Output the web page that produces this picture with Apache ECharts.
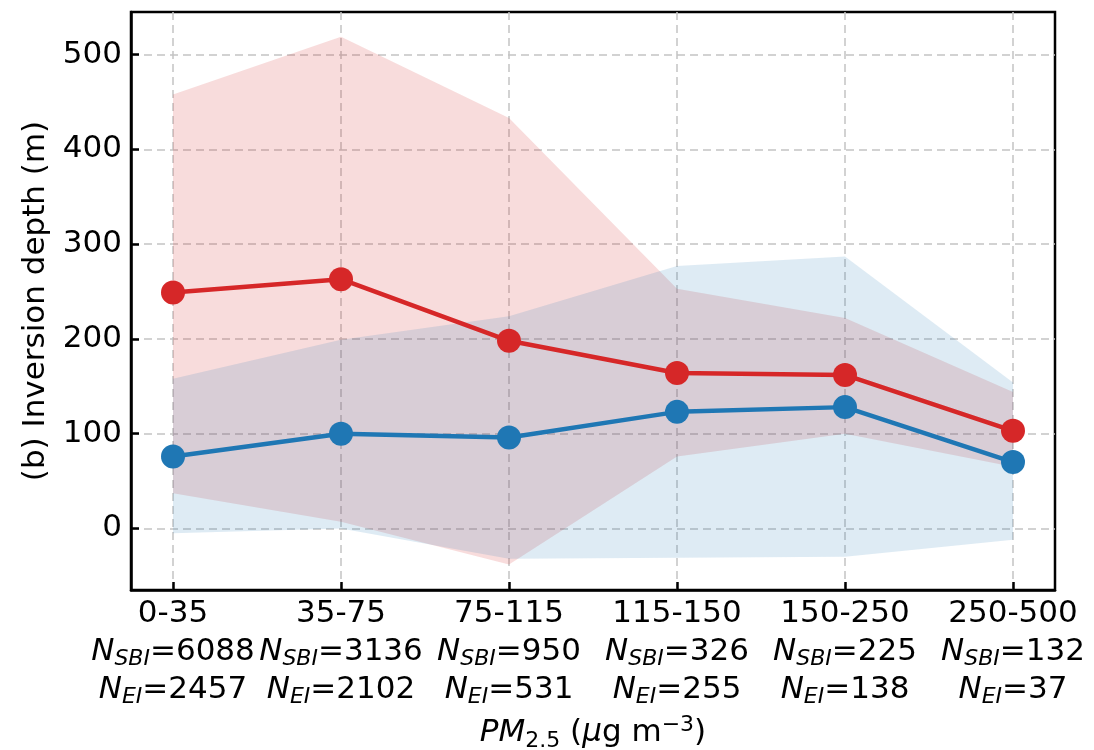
<!DOCTYPE html>
<html>
<head>
<meta charset="utf-8">
<script src="https://cdn.jsdelivr.net/npm/echarts@6/dist/echarts.min.js"></script>
<style>
html,body{margin:0;padding:0;background:#fff;}
#chart{width:1094px;height:750px;}
</style>
</head>
<body>
<div id="chart"></div>
<script>
const categories = ['0-35', '35-75', '75-115', '115-150', '150-250', '250-500'];
const nSBI = [6088, 3136, 950, 326, 225, 132];
const nEI = [2457, 2102, 531, 255, 138, 37];
const sbiMean = [249, 263, 198, 164, 162, 103];
const sbiLow = [37, 7, -38, 76, 100, 65];
const sbiHigh = [458, 519, 433, 253, 222, 144];
const eiMean = [76, 100, 96, 123, 128, 70];
const eiLow = [-5, 0, -32, -31, -30, -12];
const eiHigh = [158, 199, 224, 277, 287, 154];
const yTicks = [0, 100, 200, 300, 400, 500];

const idx = categories.map((c, i) => i);
const pairs = arr => arr.map((v, i) => [i, v]);

const RED = '#d62728', BLUE = '#1f77b4';
const FONT = 'DejaVu Sans';
const FS = 31, SFS = 22, LH = 38;

function bandSeries(name, lo, hi, color) {
  return {
    name: name, type: 'custom', silent: true, z: 1, clip: true,
    data: lo.map((v, i) => [i, v, hi[i]]),
    encode: {x: 0, y: [1, 2]},
    renderItem: (params, api) => {
      if (params.dataIndex !== 0) return null;
      const upper = hi.map((v, i) => api.coord([i, v]));
      const lower = lo.map((v, i) => api.coord([i, v])).reverse();
      return {
        type: 'polygon',
        shape: {points: upper.concat(lower)},
        style: {fill: color, stroke: null}
      };
    }
  };
}

const chart = echarts.init(document.getElementById('chart'), null, {renderer: 'canvas'});
chart.setOption({
  animation: false,
  backgroundColor: '#fff',
  textStyle: {fontFamily: FONT},
  grid: {left: 131, right: 39, top: 12, bottom: 160, outerBoundsMode: 'none', containLabel: false,
         show: true, borderColor: '#000', borderWidth: 2.5, backgroundColor: 'transparent'},
  xAxis: {
    type: 'value', min: -0.25, max: 5.25,
    axisLine: {show: true, onZero: false, lineStyle: {color: '#000', width: 2.5}},
    axisTick: {show: true, inside: true, length: 8, lineStyle: {color: '#000', width: 2.5}, customValues: idx},
    splitLine: {show: true, lineStyle: {color: '#c4c4c4', width: 1.5, type: [8, 5]}},
    axisLabel: {
      customValues: idx, margin: 5, color: '#000',
      formatter: v => {
        const i = Math.round(v);
        return '{t|' + categories[i] + '}\n{n|N}{s|SBI}{t|=' + nSBI[i] + '}\n{n|N}{s|EI}{t|=' + nEI[i] + '}';
      },
      rich: {
        t: {fontSize: FS, fontFamily: FONT, color: '#000', lineHeight: LH, verticalAlign: 'middle'},
        n: {fontSize: FS, fontFamily: FONT, fontStyle: 'italic', color: '#000', lineHeight: LH, verticalAlign: 'middle'},
        s: {fontSize: SFS, fontFamily: FONT, fontStyle: 'italic', color: '#000', lineHeight: LH, verticalAlign: 'bottom', padding: [0, 0, 1, 0]}
      }
    },
    name: '{i|PM}{s|2.5}{t| (}{i|μ}{t|g m}{p|−3}{t|)}',
    nameLocation: 'middle', nameGap: 124,
    nameTextStyle: {
      rich: {
        t: {fontSize: FS, fontFamily: FONT, color: '#000', lineHeight: LH, verticalAlign: 'middle'},
        i: {fontSize: FS, fontFamily: FONT, fontStyle: 'italic', color: '#000', lineHeight: LH, verticalAlign: 'middle'},
        s: {fontSize: SFS, fontFamily: FONT, color: '#000', lineHeight: LH, verticalAlign: 'bottom'},
        p: {fontSize: SFS, fontFamily: FONT, color: '#000', lineHeight: LH, verticalAlign: 'top'}
      }
    }
  },
  yAxis: {
    type: 'value', min: -65, max: 545,
    axisLine: {show: true, onZero: false, lineStyle: {color: '#000', width: 2.5}},
    axisTick: {show: true, inside: true, length: 8, lineStyle: {color: '#000', width: 2.5}, customValues: yTicks},
    splitLine: {show: true, lineStyle: {color: '#c4c4c4', width: 1.5, type: [8, 5]}},
    axisLabel: {customValues: yTicks, fontSize: FS, fontFamily: FONT, color: '#000', margin: 9},
    name: '(b) Inversion depth (m)', nameLocation: 'middle', nameGap: 80,
    nameTextStyle: {fontSize: FS, fontFamily: FONT, color: '#000'}
  },
  series: [
    bandSeries('sbiBand', sbiLow, sbiHigh, 'rgba(214,39,40,0.16)'),
    bandSeries('eiBand', eiLow, eiHigh, 'rgba(31,119,180,0.15)'),
    {
      name: 'SBI', type: 'line', data: pairs(sbiMean), symbol: 'circle', symbolSize: 24,
      lineStyle: {color: RED, width: 4.5}, itemStyle: {color: RED}, z: 5
    },
    {
      name: 'EI', type: 'line', data: pairs(eiMean), symbol: 'circle', symbolSize: 24,
      lineStyle: {color: BLUE, width: 4.5}, itemStyle: {color: BLUE}, z: 5
    }
  ]
});
</script>
</body>
</html>
